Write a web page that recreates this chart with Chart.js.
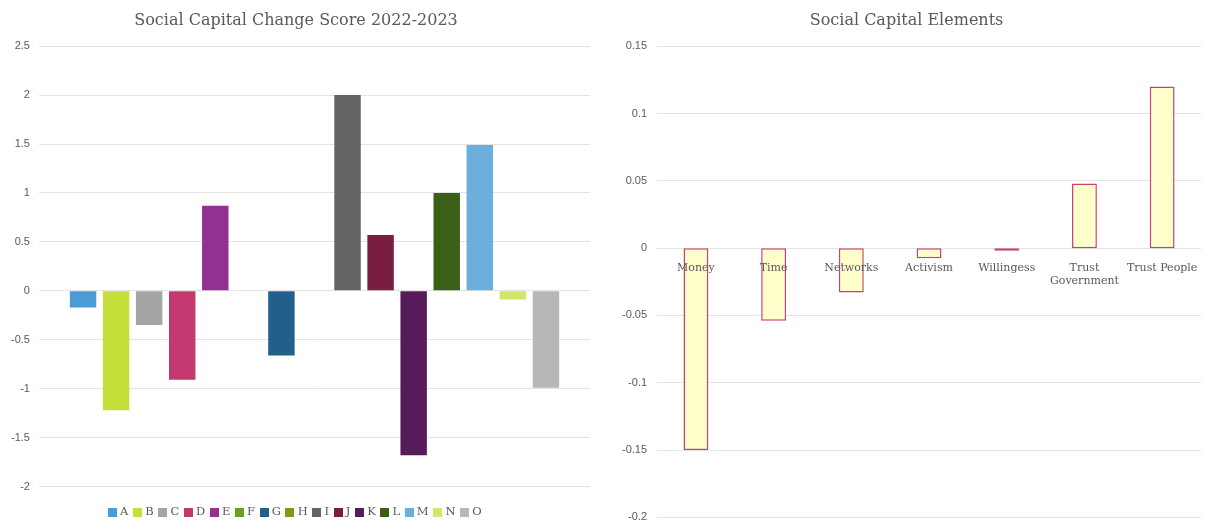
<!DOCTYPE html>
<html>
<head>
<meta charset="utf-8">
<script src="https://cdn.jsdelivr.net/npm/chart.js@4"></script>
<style>
  body { margin: 0; background: #fff; overflow: hidden; }
  .wrap { position: absolute; top: 0; }
  #left { left: 0; width: 600px; height: 528px; }
  #right { left: 600px; width: 607px; height: 534px; }
</style>
</head>
<body>
<div class="wrap" id="left"><canvas id="score-bar"></canvas></div>
<div class="wrap" id="right"><canvas id="elements-bar"></canvas></div>
<script>
var groups = ['A', 'B', 'C', 'D', 'E', 'F', 'G', 'H', 'I', 'J', 'K', 'L', 'M', 'N', 'O'];
var groupScores = [-0.17, -1.22, -0.35, -0.91, 0.87, 0, -0.66, 0, 2.0, 0.57, -1.68, 1.0, 1.49, -0.09, -0.99];
var groupColors = ['#4A9CD4', '#C5DE3A', '#A5A5A5', '#C3386E', '#92318F', '#6A9E26', '#22608A', '#84961E',
                   '#646464', '#7A1D42', '#561B59', '#3B5F16', '#6CAFDD', '#D3E66C', '#B7B7B7'];

var elements = ['Money', 'Time', 'Networks', 'Activism', 'Willingess', ['Trust', 'Government'], 'Trust People'];
var elementScores = [-0.15, -0.054, -0.033, -0.0075, -0.002, 0.048, 0.12];

var grey = '#595959';
var gridGrey = '#E3E3E3';
var serif = '"DejaVu Serif", serif';
var sans = '"Liberation Sans", Arial, sans-serif';

Chart.defaults.animation = false;

function tickText(v) {
  return String(Number(v.toFixed(3)));
}

// small square swatches for the legend (so the gap to the letter stays tight)
function swatch(color) {
  var c = document.createElement('canvas');
  c.width = 9;
  c.height = 9;
  var g = c.getContext('2d');
  g.fillStyle = color;
  g.fillRect(0, 0, 9, 9);
  return c;
}
var swatches = groupColors.map(swatch);

var ds = groups.map(function (g, i) {
  return {
    label: g,
    data: [groupScores[i]],
    backgroundColor: groupColors[i],
    borderWidth: 0
  };
});

var ctx = document.getElementById("score-bar");
var scoreChart = new Chart(ctx, {
  type: 'bar',
  data: {
    labels: [''],
    datasets: ds
  },
  options: {
    responsive: true,
    maintainAspectRatio: false,
    categoryPercentage: 0.9,
    barPercentage: 0.8,
    layout: { padding: { left: 2, right: 10, bottom: 0 } },
    plugins: {
      title: {
        display: true,
        text: 'Social Capital Change Score 2022-2023',
        color: grey,
        font: { family: serif, size: 16, weight: 'normal' },
        padding: { top: 11, bottom: 16 }
      },
      legend: {
        position: 'bottom',
        labels: {
          usePointStyle: true,
          pointStyleWidth: 4,
          boxHeight: 9,
          padding: 7,
          color: grey,
          font: { family: serif, size: 11.5 },
          generateLabels: function (chart) {
            var items = Chart.defaults.plugins.legend.labels.generateLabels(chart);
            items.forEach(function (it, i) { it.pointStyle = swatches[i]; });
            return items;
          }
        }
      },
      tooltip: { enabled: false }
    },
    scales: {
      x: {
        grid: { display: false },
        border: { display: false },
        ticks: { display: false },
        afterFit: function (scale) { scale.height = 13; }
      },
      y: {
        min: -2,
        max: 2.5,
        ticks: { stepSize: 0.5, color: grey, font: { family: sans, size: 11 }, padding: 9,
                 callback: function (v) { return tickText(v); } },
        grid: { color: gridGrey, lineWidth: 1, drawTicks: false },
        border: { display: false }
      }
    }
  }
});

var ctx2 = document.getElementById("elements-bar");
var elementChart = new Chart(ctx2, {
  type: 'bar',
  data: {
    labels: elements,
    datasets: [{
      label: 'Elements',
      data: elementScores,
      backgroundColor: '#FFFFCC',
      borderColor: '#CC3F72',
      borderWidth: 1.5,
      borderSkipped: false
    }]
  },
  options: {
    responsive: true,
    maintainAspectRatio: false,
    categoryPercentage: 1,
    barPercentage: 0.32,
    layout: { padding: { left: 12, right: 6, bottom: 0 } },
    plugins: {
      title: {
        display: true,
        text: 'Social Capital Elements',
        color: grey,
        font: { family: serif, size: 16, weight: 'normal' },
        padding: { top: 11, bottom: 16 }
      },
      legend: { display: false },
      tooltip: { enabled: false }
    },
    scales: {
      x: {
        position: { y: 0 },
        grid: { display: false },
        border: { display: false },
        ticks: { z: 1, color: grey, font: { family: serif, size: 11 }, padding: 5, maxRotation: 0, autoSkip: false },
        afterFit: function (scale) { scale.height = 0; }
      },
      y: {
        min: -0.2,
        max: 0.15,
        ticks: { stepSize: 0.05, color: grey, font: { family: sans, size: 11 }, padding: 10,
                 callback: function (v) { return tickText(v); } },
        grid: { color: gridGrey, lineWidth: 1, drawTicks: false },
        border: { display: false }
      }
    }
  }
});
</script>
</body>
</html>
